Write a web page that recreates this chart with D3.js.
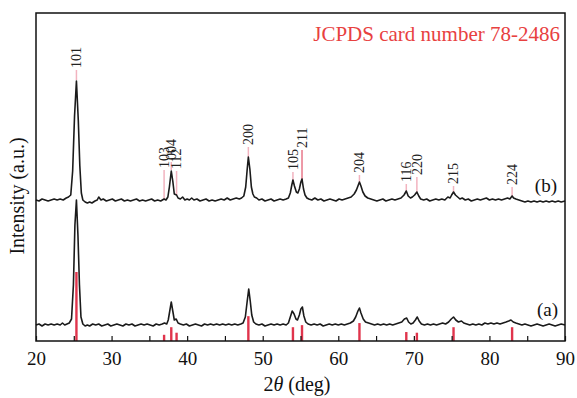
<!DOCTYPE html>
<html>
<head>
<meta charset="utf-8">
<script src="https://cdn.jsdelivr.net/npm/d3@7"></script>
<style>
body { margin: 0; background: #fff; }
svg { display: block; font-family: "Liberation Serif", "Times New Roman", serif; }
</style>
</head>
<body>
<svg id="chart" width="577" height="398"></svg>
<script>
'use strict';

// reference card (JCPDS 78-2486)
const refPeaks = ["101", "103", "004", "112", "200", "105", "211", "204", "116", "220", "215", "224"];
const refPos = [25.35, 36.95, 37.9, 38.6, 48.1, 54.0, 55.2, 62.8, 69.0, 70.4, 75.25, 83.0];
const refIntensity = [100, 9, 20, 12, 36, 20, 23, 26, 13, 12, 20, 20];
// where the index labels sit above pattern (b), and where their lines stop
const labelLevel = [131, 31, 39, 30, 54, 29, 51, 26, 17, 24, 15, 14];
const peakLevel = [121, 1, 31, 6, 44, 20, 21, 19, 10, 9, 9, 5];

const xTicks = [20, 25, 30, 35, 40, 45, 50, 55, 60, 65, 70, 75, 80, 85, 90];

const offsetA = 16;
const offsetB = 140;

// sample (a): [2theta, intensity]
const patternA = [
    [20.0,0],[20.4,1],[20.8,-1],[21.2,1],[21.6,0],[22.0,1],[22.4,0],[22.8,1],[23.2,0],[23.5,2],
    [23.8,0],[24.1,1],[24.4,2],[24.7,6],[24.95,40],[25.15,100],[25.35,125],[25.55,90],[25.75,40],[25.95,8],
    [26.2,1],[26.5,-1],[26.8,0],[27.1,-1],[27.5,1],[27.9,0],[28.3,1],[28.7,-1],[29.1,0],[29.5,1],
    [29.9,-1],[30.3,0],[30.7,1],[31.1,0],[31.5,-1],[31.9,1],[32.3,0],[32.7,1],[33.1,-1],[33.5,0],
    [33.9,1],[34.3,0],[34.7,1],[35.1,0],[35.5,-1],[35.9,1],[36.3,0],[36.7,1],[37.0,2],[37.3,1],
    [37.5,5],[37.7,14],[37.9,23],[38.1,14],[38.3,5],[38.55,6],[38.8,2],[39.1,1],[39.5,0],[39.9,1],
    [40.3,-1],[40.7,0],[41.1,1],[41.5,0],[41.9,-1],[42.3,1],[42.7,0],[43.1,1],[43.5,0],[43.9,1],
    [44.3,0],[44.7,1],[45.1,0],[45.5,1],[45.9,0],[46.3,1],[46.7,0],[47.1,1],[47.4,2],[47.7,8],
    [47.95,24],[48.15,36],[48.35,24],[48.55,10],[48.8,3],[49.1,1],[49.5,0],[49.9,1],[50.3,-1],[50.7,0],
    [51.1,1],[51.5,0],[51.9,1],[52.3,0],[52.7,1],[53.1,0],[53.4,2],[53.65,8],[53.9,14],[54.15,11],
    [54.4,6],[54.6,5],[54.85,10],[55.05,16],[55.25,18],[55.45,9],[55.7,3],[56.0,1],[56.4,0],[56.8,1],
    [57.2,0],[57.6,1],[58.0,-1],[58.4,0],[58.8,1],[59.2,0],[59.6,1],[60.0,0],[60.4,1],[60.8,0],
    [61.2,1],[61.6,2],[62.0,4],[62.3,8],[62.6,14],[62.8,17],[63.0,12],[63.3,6],[63.6,3],[64.0,2],
    [64.4,1],[64.8,0],[65.2,1],[65.6,0],[66.0,1],[66.4,0],[66.8,1],[67.2,0],[67.6,1],[68.0,2],
    [68.4,3],[68.75,6],[69.05,7],[69.3,3],[69.6,1],[69.9,2],[70.2,5],[70.45,8],[70.7,4],[71.0,1],
    [71.4,0],[71.8,1],[72.2,0],[72.6,1],[73.0,0],[73.4,1],[73.8,2],[74.2,1],[74.6,3],[74.95,6],
    [75.25,8],[75.55,5],[75.9,3],[76.3,4],[76.6,2],[77.0,1],[77.4,0],[77.8,1],[78.2,0],[78.6,1],
    [79.0,0],[79.4,2],[79.8,1],[80.2,2],[80.6,1],[81.0,2],[81.4,1],[81.8,2],[82.2,3],[82.55,4],
    [82.85,5],[83.15,3],[83.5,2],[83.9,1],[84.3,0],[84.7,1],[85.1,0],[85.5,-1],[85.9,0],[86.3,1],
    [86.7,0],[87.1,-1],[87.5,0],[87.9,1],[88.3,0],[88.7,-1],[89.1,0],[89.5,1],[90.0,0]
];

// sample (b)
const patternB = [
    [20.0,1],[20.4,0],[20.8,2],[21.2,1],[21.6,0],[22.0,1],[22.4,2],[22.8,1],[23.2,2],[23.6,1],
    [24.0,3],[24.3,4],[24.6,6],[24.85,30],[25.1,85],[25.35,120],[25.6,80],[25.8,35],[26.0,8],[26.2,1],
    [26.5,-1],[26.8,-2],[27.1,-1],[27.4,-2],[27.8,0],[28.1,1],[28.3,4],[28.6,1],[28.9,2],[29.3,0],
    [29.7,1],[30.1,2],[30.5,0],[30.9,1],[31.3,2],[31.7,0],[32.1,1],[32.5,0],[32.9,1],[33.3,2],
    [33.7,0],[34.1,1],[34.5,0],[34.9,1],[35.3,2],[35.7,0],[36.1,1],[36.5,0],[36.95,2],[37.2,1],
    [37.45,4],[37.65,14],[37.9,30],[38.1,20],[38.3,7],[38.6,6],[38.8,3],[39.1,2],[39.4,4],[39.7,1],
    [40.0,2],[40.3,1],[40.6,3],[40.9,1],[41.3,2],[41.7,0],[42.1,1],[42.5,2],[42.9,0],[43.3,1],
    [43.7,0],[44.1,1],[44.5,2],[44.9,1],[45.3,3],[45.7,1],[46.1,2],[46.5,3],[46.9,2],[47.2,3],
    [47.5,5],[47.75,14],[47.95,32],[48.1,44],[48.3,32],[48.5,14],[48.7,7],[48.9,4],[49.2,3],[49.5,1],
    [49.9,2],[50.3,0],[50.7,1],[51.1,2],[51.5,0],[51.9,1],[52.3,2],[52.7,1],[53.1,2],[53.4,3],
    [53.65,8],[53.85,16],[54.0,21],[54.2,15],[54.45,9],[54.65,8],[54.85,12],[55.05,19],[55.2,22],[55.4,12],
    [55.6,6],[55.85,3],[56.1,2],[56.5,1],[56.9,3],[57.3,1],[57.7,2],[58.1,0],[58.5,1],[58.9,2],
    [59.3,1],[59.7,0],[60.1,2],[60.5,1],[60.9,2],[61.3,3],[61.7,4],[62.1,7],[62.4,11],[62.65,16],
    [62.8,19],[63.0,15],[63.25,9],[63.55,5],[63.9,3],[64.3,2],[64.7,1],[65.1,0],[65.5,1],[65.9,2],
    [66.3,0],[66.7,1],[67.1,2],[67.5,1],[67.9,2],[68.3,3],[68.7,6],[69.0,10],[69.25,5],[69.55,3],
    [69.8,4],[70.1,6],[70.4,9],[70.65,5],[70.9,2],[71.3,1],[71.7,2],[72.1,0],[72.5,1],[72.9,2],
    [73.3,1],[73.7,2],[74.1,1],[74.5,4],[74.8,3],[75.0,6],[75.25,9],[75.5,6],[75.8,4],[76.1,2],
    [76.4,3],[76.8,1],[77.2,2],[77.6,0],[78.0,1],[78.4,2],[78.8,1],[79.2,2],[79.6,3],[80.0,1],
    [80.4,2],[80.8,1],[81.2,2],[81.6,1],[82.0,2],[82.4,3],[82.7,2],[83.0,5],[83.2,3],[83.5,2],
    [83.9,1],[84.3,0],[84.7,-1],[85.1,0],[85.5,-1],[85.9,0],[86.3,-1],[86.7,0],[87.1,-1],[87.5,0],
    [87.9,-1],[88.3,0],[88.7,-1],[89.1,0],[89.5,-1],[90.0,0]
];

let svg = d3.select("#chart"),
    margin = {top: 13, right: 12, bottom: 57, left: 36},
    width = +svg.attr("width"),
    height = +svg.attr("height");

let x = d3.scaleLinear()
    .domain([20, 90])
    .range([margin.left, width - margin.right]);

let y = d3.scaleLinear()
    .domain([0, 328])
    .range([height - margin.bottom, margin.top]);

// stick pattern of the card, drawn up from the bottom axis
let yRef = d3.scaleLinear()
    .domain([0, 100])
    .range([height - margin.bottom, height - margin.bottom - 69]);

let refData = refPeaks.map((hkl, i) => ({
    hkl: hkl,
    pos: refPos[i],
    inten: refIntensity[i],
    label: labelLevel[i],
    peak: peakLevel[i]
}));

// index lines above (b)
svg.selectAll(".hklLine")
    .data(refData)
    .enter().append("line")
    .attr("class", "hklLine")
    .attr("x1", d => x(d.pos))
    .attr("x2", d => x(d.pos))
    .attr("y1", d => y(offsetB + d.label))
    .attr("y2", d => y(offsetB + d.peak))
    .attr("stroke", d => d.hkl === "211" ? "#e8788a" : "#f2b3bf")
    .attr("stroke-width", 1.5);

svg.selectAll(".hklText")
    .data(refData)
    .enter().append("text")
    .attr("class", "hklText")
    .attr("transform", d => "translate(" + x(d.pos) + "," + (y(offsetB + d.label) - 2) + ") rotate(-90)")
    .attr("dy", "0.35em")
    .attr("font-size", 14)
    .attr("fill", "#222")
    .text(d => d.hkl);

function drawPattern(data, offset) {
    let line = d3.line()
        .x(d => x(d[0]))
        .y(d => y(d[1] + offset));
    svg.append("path")
        .attr("class", "pattern")
        .attr("fill", "none")
        .attr("stroke", "#1b1b1b")
        .attr("stroke-width", 1.6)
        .attr("stroke-linejoin", "round")
        .attr("d", line(data));
}

drawPattern(patternA, offsetA);
drawPattern(patternB, offsetB);

svg.selectAll(".refBar")
    .data(refData)
    .enter().append("line")
    .attr("class", "refBar")
    .attr("x1", d => x(d.pos))
    .attr("x2", d => x(d.pos))
    .attr("y1", yRef(0))
    .attr("y2", d => yRef(d.inten))
    .attr("stroke", "#e0344c")
    .attr("stroke-width", 2.4);

// frame
svg.append("rect")
    .attr("x", margin.left)
    .attr("y", margin.top)
    .attr("width", width - margin.left - margin.right)
    .attr("height", height - margin.top - margin.bottom)
    .attr("fill", "none")
    .attr("stroke", "#111")
    .attr("stroke-width", 1.5);

let xAxis = svg.append("g")
    .attr("class", "x-axis")
    .attr("transform", "translate(0," + y(0) + ")")
    .call(d3.axisBottom(x)
        .tickValues(xTicks)
        .tickSize(-5)
        .tickPadding(11)
        .tickFormat(d => d % 10 === 0 ? d : ""));
xAxis.select(".domain").remove();
xAxis.attr("font-family", null).attr("font-size", 19);
xAxis.selectAll("line").attr("stroke", "#111").attr("stroke-width", 1.2);
xAxis.selectAll("text").attr("fill", "#111");

let xTitle = svg.append("text")
    .attr("x", 297)
    .attr("y", 391)
    .attr("text-anchor", "middle")
    .attr("font-size", 20)
    .attr("fill", "#111");
xTitle.append("tspan").text("2");
xTitle.append("tspan").attr("font-style", "italic").text("θ");
xTitle.append("tspan").text(" (deg)");

svg.append("text")
    .attr("transform", "translate(24,196) rotate(-90)")
    .attr("text-anchor", "middle")
    .attr("font-size", 20)
    .attr("fill", "#111")
    .text("Intensity (a.u.)");

svg.append("text")
    .attr("x", 560)
    .attr("y", 41)
    .attr("text-anchor", "end")
    .attr("font-size", 21)
    .attr("fill", "#e8413f")
    .text("JCPDS card number 78-2486");

svg.append("text")
    .attr("x", 557)
    .attr("y", 192)
    .attr("text-anchor", "end")
    .attr("font-size", 19)
    .attr("fill", "#111")
    .text("(b)");

svg.append("text")
    .attr("x", 558)
    .attr("y", 316)
    .attr("text-anchor", "end")
    .attr("font-size", 19)
    .attr("fill", "#111")
    .text("(a)");
</script>
</body>
</html>
